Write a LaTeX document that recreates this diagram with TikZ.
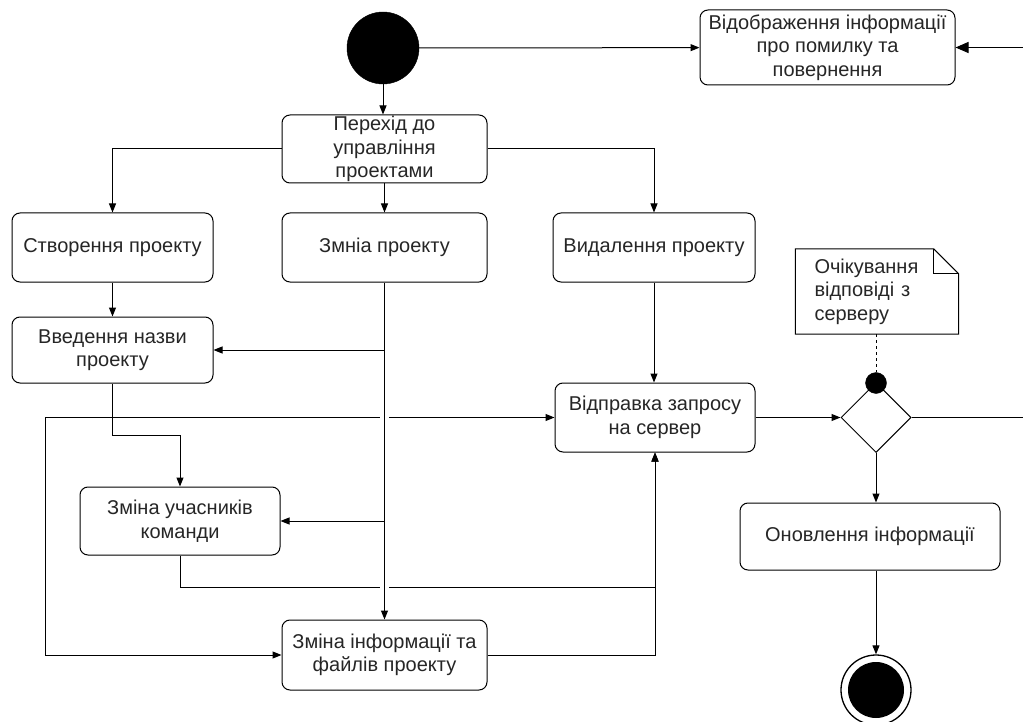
\documentclass[tikz,border=0pt]{standalone}
\usepackage{fontspec}
\setmainfont{Liberation Sans}
\usetikzlibrary{arrows, arrows.meta, calc, shapes.geometric, positioning}

\begin{document}
\begin{tikzpicture}[x=1pt, y=-1pt, >={Triangle[length=9pt,width=7pt]},
		act/.style={draw, line width=1pt, rounded corners=8pt, fill=white, align=center, text=black!85, inner sep=1pt, font=\fontsize{20}{23.5}\selectfont},
		flow/.style={->, line width=1pt},
		bigdot/.style={circle, fill=black, draw=black, inner sep=0pt}]
	\useasboundingbox (0,0) rectangle (1023,722);

	\node[bigdot, minimum size=72] (start) at (383,48) {};
	\node[act, minimum width=255, minimum height=75] (err) at (827.5,47.5) {Відображення інформації\\про помилку та\\повернення};
	\coordinate (rE) at (1023,47.5);

	\node[act, minimum width=205, minimum height=68] (perehid) at (384.5,149) {Перехід до\\управління\\проектами};

	\node[act, minimum width=201, minimum height=69] (stvor) at (112.5,247.5) {Створення проекту};
	\node[act, minimum width=205, minimum height=69] (zmina) at (384.5,247.5) {Змніа проекту};
	\node[act, minimum width=202, minimum height=69] (vydal) at (654,247.5) {Видалення проекту};

	\node[act, minimum width=201, minimum height=66] (vved) at (112.5,350) {Введення назви\\проекту};
	\node[act, minimum width=200, minimum height=68] (uchas) at (180,521) {Зміна учасників\\команди};
	\node[act, minimum width=205, minimum height=70] (info) at (384.5,655) {Зміна інформації та\\файлів проекту};
	\node[act, minimum width=200, minimum height=69] (vidpr) at (655,417.5) {Відправка запросу\\на сервер};
	\coordinate (lp) at (45,417.5);

	\node[draw, diamond, line width=1pt, fill=white, inner sep=0pt, minimum width=70, minimum height=70] (dec) at (876,417.5) {};
	\coordinate (rD) at (1023,417.5);
	\node[bigdot, minimum size=21] (dot) at (876,383) {};

	\node[text=black!85, align=left, text width=125, minimum width=163, minimum height=85, font=\fontsize{20}{23.5}\selectfont] (note) at (877,291.5) {Очікування\\відповіді з\\серверу};
	\draw[line width=1pt] (note.north west) -- ([xshift=-25pt]note.north east) -- ([yshift=-25pt]note.north east) -- (note.south east) -- (note.south west) -- cycle;
	\draw[line width=1pt] ([xshift=-25pt]note.north east) |- ([yshift=-25pt]note.north east);

	\node[act, minimum width=260, minimum height=67] (onovl) at (870,536.5) {Оновлення інформації};
	\node[circle, draw, line width=1.3pt, minimum size=70] (fin) at (876,690) {};
	\fill (fin.center) circle (28);

	\draw[flow] (start.south) -- (start.south |- perehid.north);
	\draw[flow] (start) -- (err);
	\draw[-{Triangle[length=13pt,width=11pt]}, line width=1pt] (rE) -- (err);
	\draw[flow] (perehid.west) -| (stvor.north);
	\draw[flow] (perehid) -- (zmina);
	\draw[flow] (perehid.east) -| (vydal.north);
	\draw[flow] (stvor) -- (vved);
	\draw[flow] (vydal.south) -- (vydal.south |- vidpr.north);
	\draw[flow] (vved.south) -- ++(0,52) -| (uchas.north);

	\draw[<->, line width=1pt] (info.west) -| (lp) -- (vidpr.west);
	\draw[flow] (uchas.south) -- ++(0,32) -| (vidpr.south);
	\draw[flow] (info.east) -| (vidpr.south);

	\draw[white, line width=9pt] ($(zmina.south)+(0,120)$) -- ($(zmina.south)+(0,320)$);
	\draw[flow] (zmina) -- (info);
	\draw[flow] (zmina.south |- vved.east) -- (vved.east);
	\draw[flow] (zmina.south |- uchas.east) -- (uchas.east);

	\draw[flow] (vidpr) -- (dec);
	\draw[line width=1pt] (dec.east) -- (rD);
	\draw[flow] (dec.south) -- (dec.south |- onovl.north);
	\draw[flow] (onovl.south -| fin) -- (fin.north);
	\draw[dashed, line width=1pt] (note.south -| dot) -- (dot);
\end{tikzpicture}
\end{document}
